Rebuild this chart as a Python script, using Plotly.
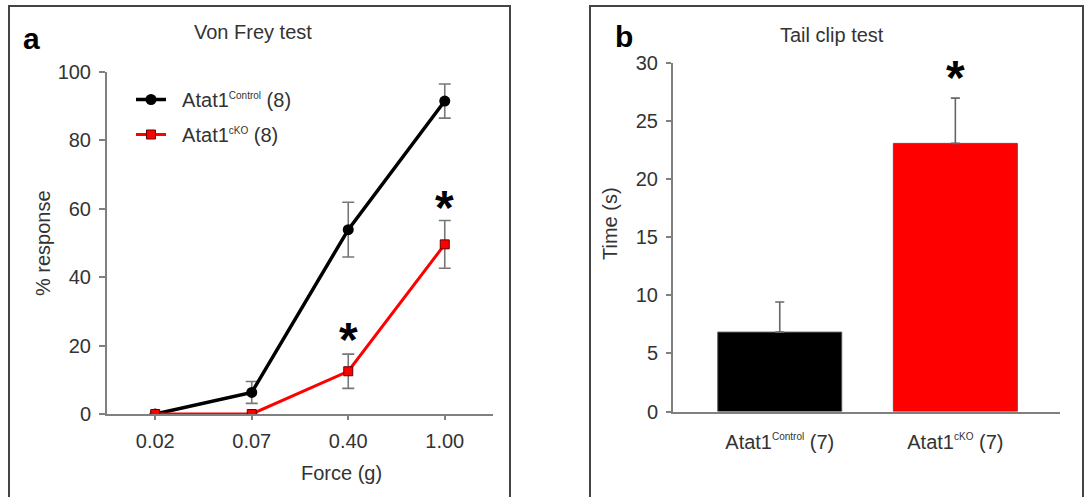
import plotly.graph_objects as go

# ---- Panel a: Von Frey test ----
force_labels = ["0.02", "0.07", "0.40", "1.00"]
control_resp = [0, 6.3, 53.9, 91.5]
control_err = [0, 3.2, 8.0, 5.0]
cko_resp = [0, 0, 12.5, 49.6]
cko_err = [0, 0, 5.0, 7.0]
sig_a_idx = [2, 3]
sig_a_y = [23.7, 62.4]

# ---- Panel b: Tail clip test ----
groups_b = ["Atat1<sup><span style='font-size:10px'>Control</span></sup> (7)",
            "Atat1<sup><span style='font-size:10px'>cKO</span></sup> (7)"]
time_vals = [6.84, 23.1]
time_err = [2.6, 3.9]
sig_b_y = 29.4

W, H = 1085, 497
FONT = "Liberation Sans, Arial, Helvetica, sans-serif"
TXT = "#333333"
AX = "#808080"

def px(x):
    return x / W

def py(y):
    return 1 - y / H

fig = go.Figure()

xa = list(range(len(force_labels)))
fig.add_trace(go.Scatter(
    x=xa, y=control_resp, mode="lines+markers",
    name="\u00a0\u00a0Atat1<sup><span style='font-size:10px'>Control</span></sup> (8)",
    line=dict(color="black", width=3.5),
    marker=dict(symbol="circle", size=11, color="black"),
    error_y=dict(type="data", array=control_err, color="#777777", thickness=1.6, width=6),
    xaxis="x", yaxis="y", legendgroup="c",
))
fig.add_trace(go.Scatter(
    x=xa, y=cko_resp, mode="lines+markers",
    name="\u00a0\u00a0Atat1<sup><span style='font-size:10px'>cKO</span></sup> (8)",
    line=dict(color="#ff0000", width=3),
    marker=dict(symbol="square", size=9, color="#ff0000", line=dict(color="#660000", width=1)),
    error_y=dict(type="data", array=cko_err, color="#777777", thickness=1.6, width=6),
    xaxis="x", yaxis="y", legendgroup="k",
))

fig.add_trace(go.Bar(
    x=[0, 1], y=time_vals, width=0.706,
    marker=dict(color=["black", "#ff0000"], line=dict(color="#555555", width=1)),
    error_y=dict(type="data", array=time_err, arrayminus=[0, 0], symmetric=False,
                 color="#666666", thickness=1.6, width=4.5),
    xaxis="x2", yaxis="y2", showlegend=False,
))

axis_common = dict(showline=True, linecolor=AX, linewidth=2, showgrid=False, zeroline=False,
                   tickfont=dict(family=FONT, size=20, color=TXT), tickcolor=AX, tickwidth=1.5,
                   automargin=False)

fig.update_layout(
    width=W, height=H, autosize=False,
    margin=dict(l=0, r=0, t=0, b=0, pad=0, autoexpand=False),
    paper_bgcolor="white", plot_bgcolor="white",
    showlegend=True,
    legend=dict(x=px(131), y=py(80), xanchor="left", yanchor="top",
                font=dict(family=FONT, size=20, color=TXT),
                bgcolor="rgba(0,0,0,0)", tracegroupgap=6, traceorder="grouped",
                itemwidth=30),
    xaxis=dict(domain=[px(107), px(493)], range=[-0.5, 3.5], tickmode="array",
               tickvals=xa, ticktext=force_labels, ticks="outside", ticklen=4,
               ticklabelstandoff=4, anchor="y", **axis_common),
    yaxis=dict(domain=[py(414), py(72)], range=[0, 100], tickvals=[0, 20, 40, 60, 80, 100],
               ticks="outside", ticklen=6, ticklabelstandoff=4, anchor="x", **axis_common),
    xaxis2=dict(domain=[px(673), px(1060)], range=[-0.608, 1.596], tickmode="array",
                tickvals=[0, 1], ticktext=groups_b, ticks="", ticklabelstandoff=11,
                anchor="y2", **axis_common),
    yaxis2=dict(domain=[py(411.5), py(63.3)], range=[0, 30], tickvals=[0, 5, 10, 15, 20, 25, 30],
                ticks="outside", ticklen=5, ticklabelstandoff=4, anchor="x2", **axis_common),
)

# panel borders
for x0, x1 in [(9, 510), (590, 1083)]:
    fig.add_shape(type="rect", xref="paper", yref="paper", x0=px(x0), x1=px(x1),
                  y0=-0.2, y1=py(6), line=dict(color="#444444", width=2), fillcolor="rgba(0,0,0,0)")

ann = []
def text(x, y, s, size=20, color=TXT, bold=False, angle=0):
    ann.append(dict(x=px(x), y=py(y), xref="paper", yref="paper", text=s, showarrow=False,
                    xanchor="center", yanchor="middle", textangle=angle,
                    font=dict(family=FONT, size=size, color=color,
                              weight="bold" if bold else "normal")))

text(253, 32, "Von Frey test")
text(832, 35, "Tail clip test")
text(43, 243, "% response", angle=-90)
text(341, 473, "Force (g)")
text(610, 224, "Time (s)", angle=-90)
text(31, 38, "a", size=30, color="black", bold=True)
text(624, 36, "b", size=30, color="black", bold=True)

for i, yv in zip(sig_a_idx, sig_a_y):
    ann.append(dict(x=i, y=yv, xref="x", yref="y", text="*", showarrow=False,
                    yanchor="middle", yshift=-7,
                    font=dict(family=FONT, size=48, color="black", weight="bold")))
ann.append(dict(x=1, y=sig_b_y, xref="x2", yref="y2", text="*", showarrow=False,
                yanchor="middle", yshift=-7,
                font=dict(family=FONT, size=48, color="black", weight="bold")))

fig.update_layout(annotations=ann)
fig.write_html(
    "out.html",
    config={"responsive": False, "displayModeBar": False},
    post_script="document.body.style.margin='0';document.body.style.overflow='hidden';",
)
